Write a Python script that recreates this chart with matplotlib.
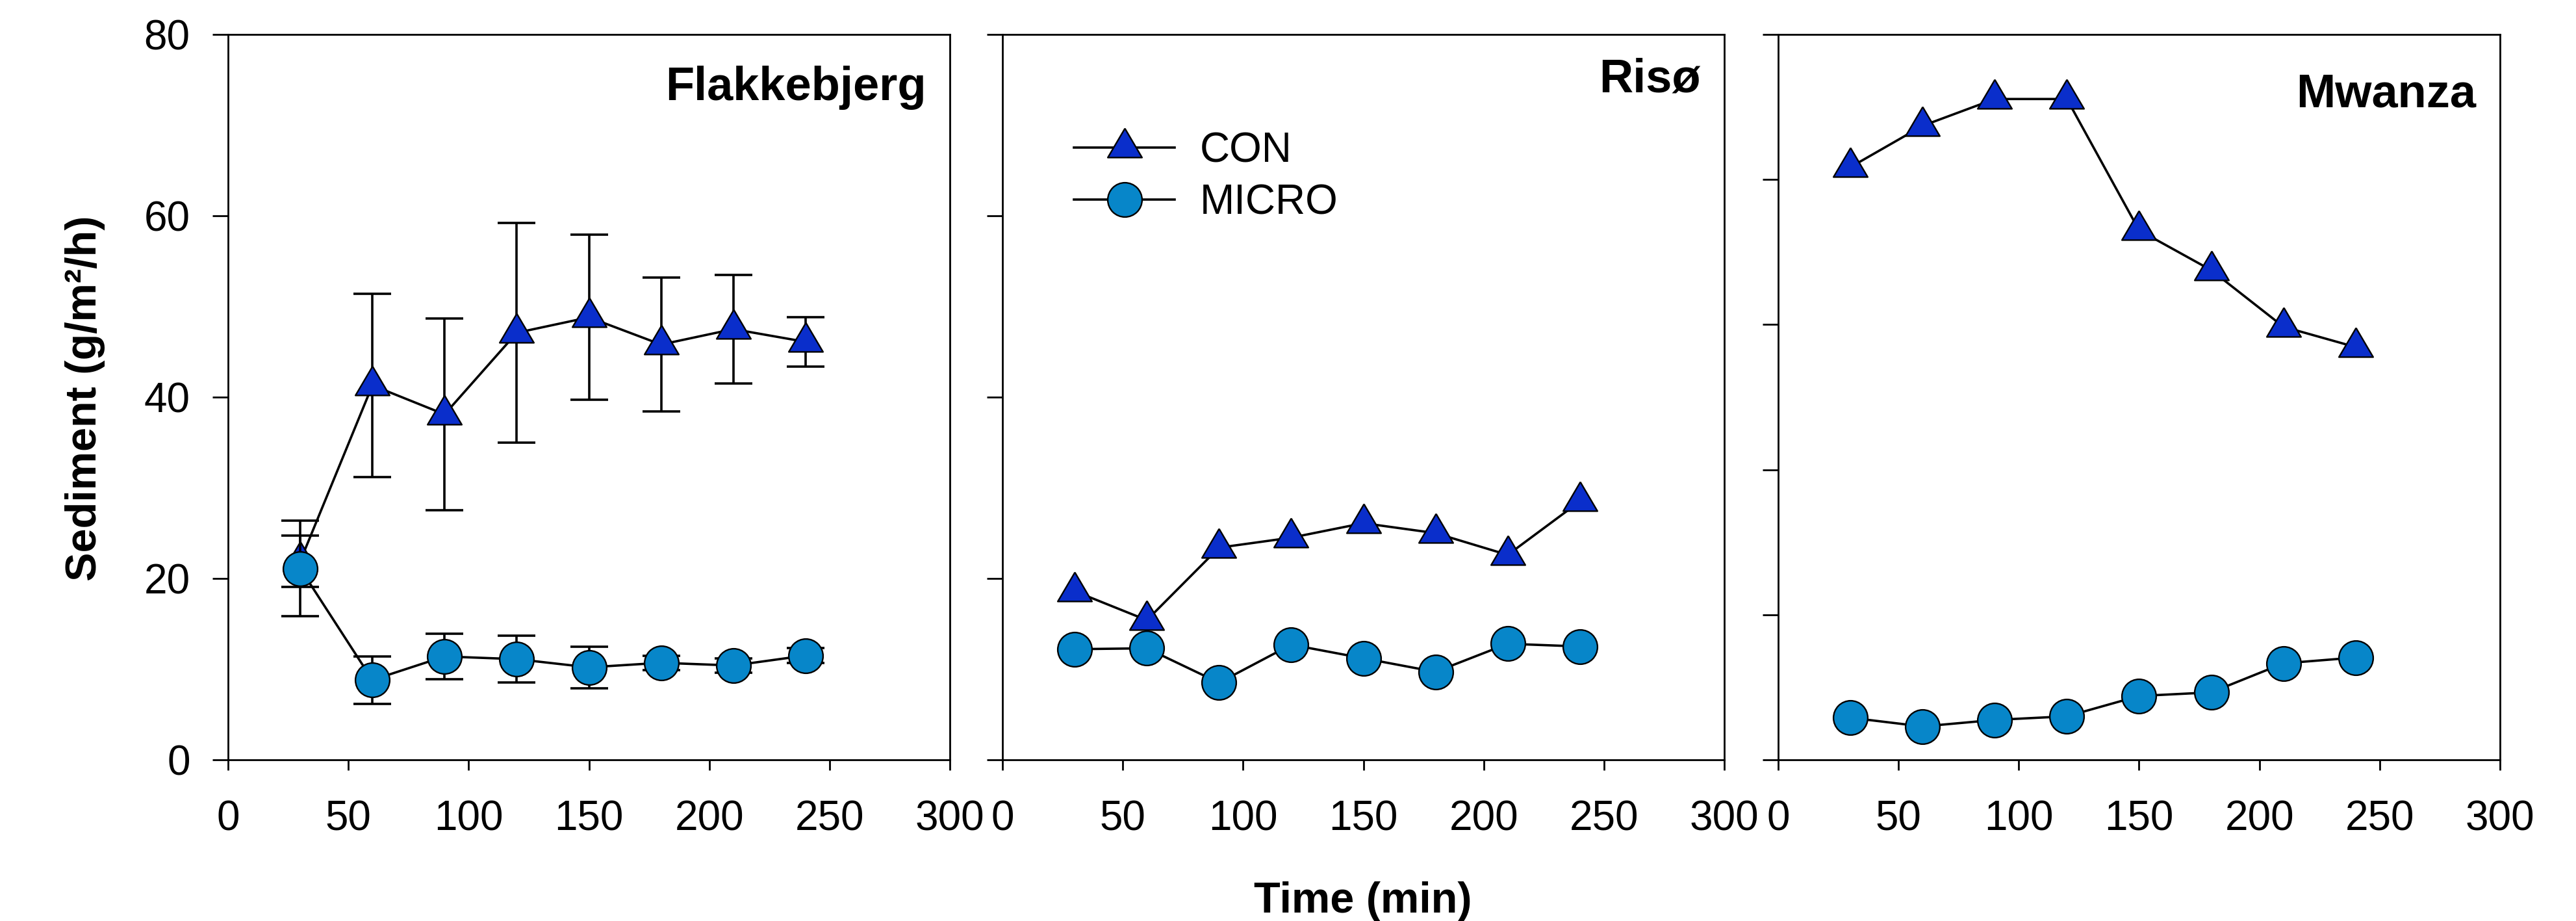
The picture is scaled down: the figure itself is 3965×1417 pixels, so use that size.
import matplotlib
matplotlib.use('Agg')
import matplotlib.pyplot as plt
from matplotlib.lines import Line2D

# time axis (min)
time_min = [30, 60, 90, 120, 150, 180, 210, 240]

# Flakkebjerg
flak_con = [21.9, 41.3, 38.1, 47.1, 48.8, 45.8, 47.5, 46.1]
flak_con_err = [2.8, 10.1, 10.6, 12.1, 9.1, 7.4, 6.0, 2.7]
flak_micro = [21.1, 8.8, 11.4, 11.1, 10.2, 10.7, 10.4, 11.5]
flak_micro_err = [5.25, 2.6, 2.5, 2.6, 2.3, 0.8, 0.8, 0.8]

# Risø
riso_con = [18.6, 15.4, 23.4, 24.5, 26.1, 25.0, 22.6, 28.5]
riso_micro = [12.2, 12.3, 8.5, 12.7, 11.2, 9.7, 12.8, 12.5]

# Mwanza (own y scale, 0-100)
mwanza_con = [81.7, 87.4, 91.1, 91.1, 73.0, 67.5, 59.7, 56.9]
mwanza_micro = [5.8, 4.6, 5.5, 6.0, 8.8, 9.3, 13.3, 14.1]

panel_names = ['Flakkebjerg', 'Risø', 'Mwanza']
x_ticks = [0, 50, 100, 150, 200, 250, 300]

CON_COLOR = '#0A2ECB'
MICRO_COLOR = '#0786C9'

plt.rcParams['font.family'] = ['Liberation Sans', 'DejaVu Sans']

# triangle with its centroid on the data point (like SigmaPlot)
TRI = [(0, 1), (-0.883, -0.5), (0.883, -0.5), (0, 1)]

fig = plt.figure(figsize=(39.66, 14.17), dpi=100)

W, H = 3966., 1417.
lefts = [351, 1543, 2737]
bottom = (H - 1169) / H
height = 1116 / H
width = 1111 / W

LW = 2.6
MEW = 1.7


def draw_series(ax, y, err, marker, ms, color, z):
    if err is not None:
        ax.errorbar(time_min, y, yerr=err, fmt='none', ecolor='k',
                    elinewidth=LW, capsize=21, capthick=LW, zorder=z)
    ax.plot(time_min, y, color='k', lw=LW, marker=marker, markersize=ms,
            markerfacecolor=color, markeredgecolor='k', markeredgewidth=MEW,
            zorder=z + 0.5)


data = [
    (flak_con, flak_con_err, flak_micro, flak_micro_err, 80),
    (riso_con, None, riso_micro, None, 80),
    (mwanza_con, None, mwanza_micro, None, 100),
]
title_tops = [0.957, 0.968, 0.948]

axes = []
for i, (con, con_err, micro, micro_err, ymax) in enumerate(data):
    ax = fig.add_axes([lefts[i] / W, bottom, width, height])
    axes.append(ax)
    draw_series(ax, con, con_err, TRI, 43, CON_COLOR, 2)
    draw_series(ax, micro, micro_err, 'o', 38, MICRO_COLOR, 4)

    ax.set_xlim(0, 300)
    ax.set_ylim(0, ymax)
    ax.set_xticks(x_ticks)
    ax.set_yticks(range(0, ymax + 1, 20))
    for sp in ax.spines.values():
        sp.set_linewidth(2.0)
    ax.tick_params(axis='x', direction='out', length=11.5, width=2.0,
                   pad=33, labelsize=46, top=False)
    ax.tick_params(axis='y', direction='out', length=17, width=2.0,
                   pad=25, labelsize=46, right=False)
    if i > 0:
        ax.tick_params(axis='y', labelleft=False)

    ax.text(0.967, title_tops[i], panel_names[i], transform=ax.transAxes,
            ha='right', va='top', fontsize=52, fontweight='bold')

# legend in the middle panel
handles = [
    Line2D([], [], color='k', lw=LW, marker=TRI, markersize=43,
           markerfacecolor=CON_COLOR, markeredgecolor='k', markeredgewidth=MEW),
    Line2D([], [], color='k', lw=LW, marker='o', markersize=38,
           markerfacecolor=MICRO_COLOR, markeredgecolor='k', markeredgewidth=MEW),
]
axes[1].legend(handles, ['CON', 'MICRO'], loc='upper left',
               bbox_to_anchor=(0.099, 0.866), frameon=False, fontsize=46,
               handlelength=2.43, handletextpad=0.61, labelspacing=0.31,
               borderpad=0, borderaxespad=0, numpoints=1)

fig.text(131 / W, 1 - 613 / H, 'Sediment (g/m²/h)', rotation=90,
         ha='center', va='center', fontsize=48, fontweight='bold')
fig.text(2098 / W, 1 - 1387 / H, 'Time (min)', ha='center', va='center',
         fontsize=48, fontweight='bold')

fig.savefig('out.png', dpi=100)
